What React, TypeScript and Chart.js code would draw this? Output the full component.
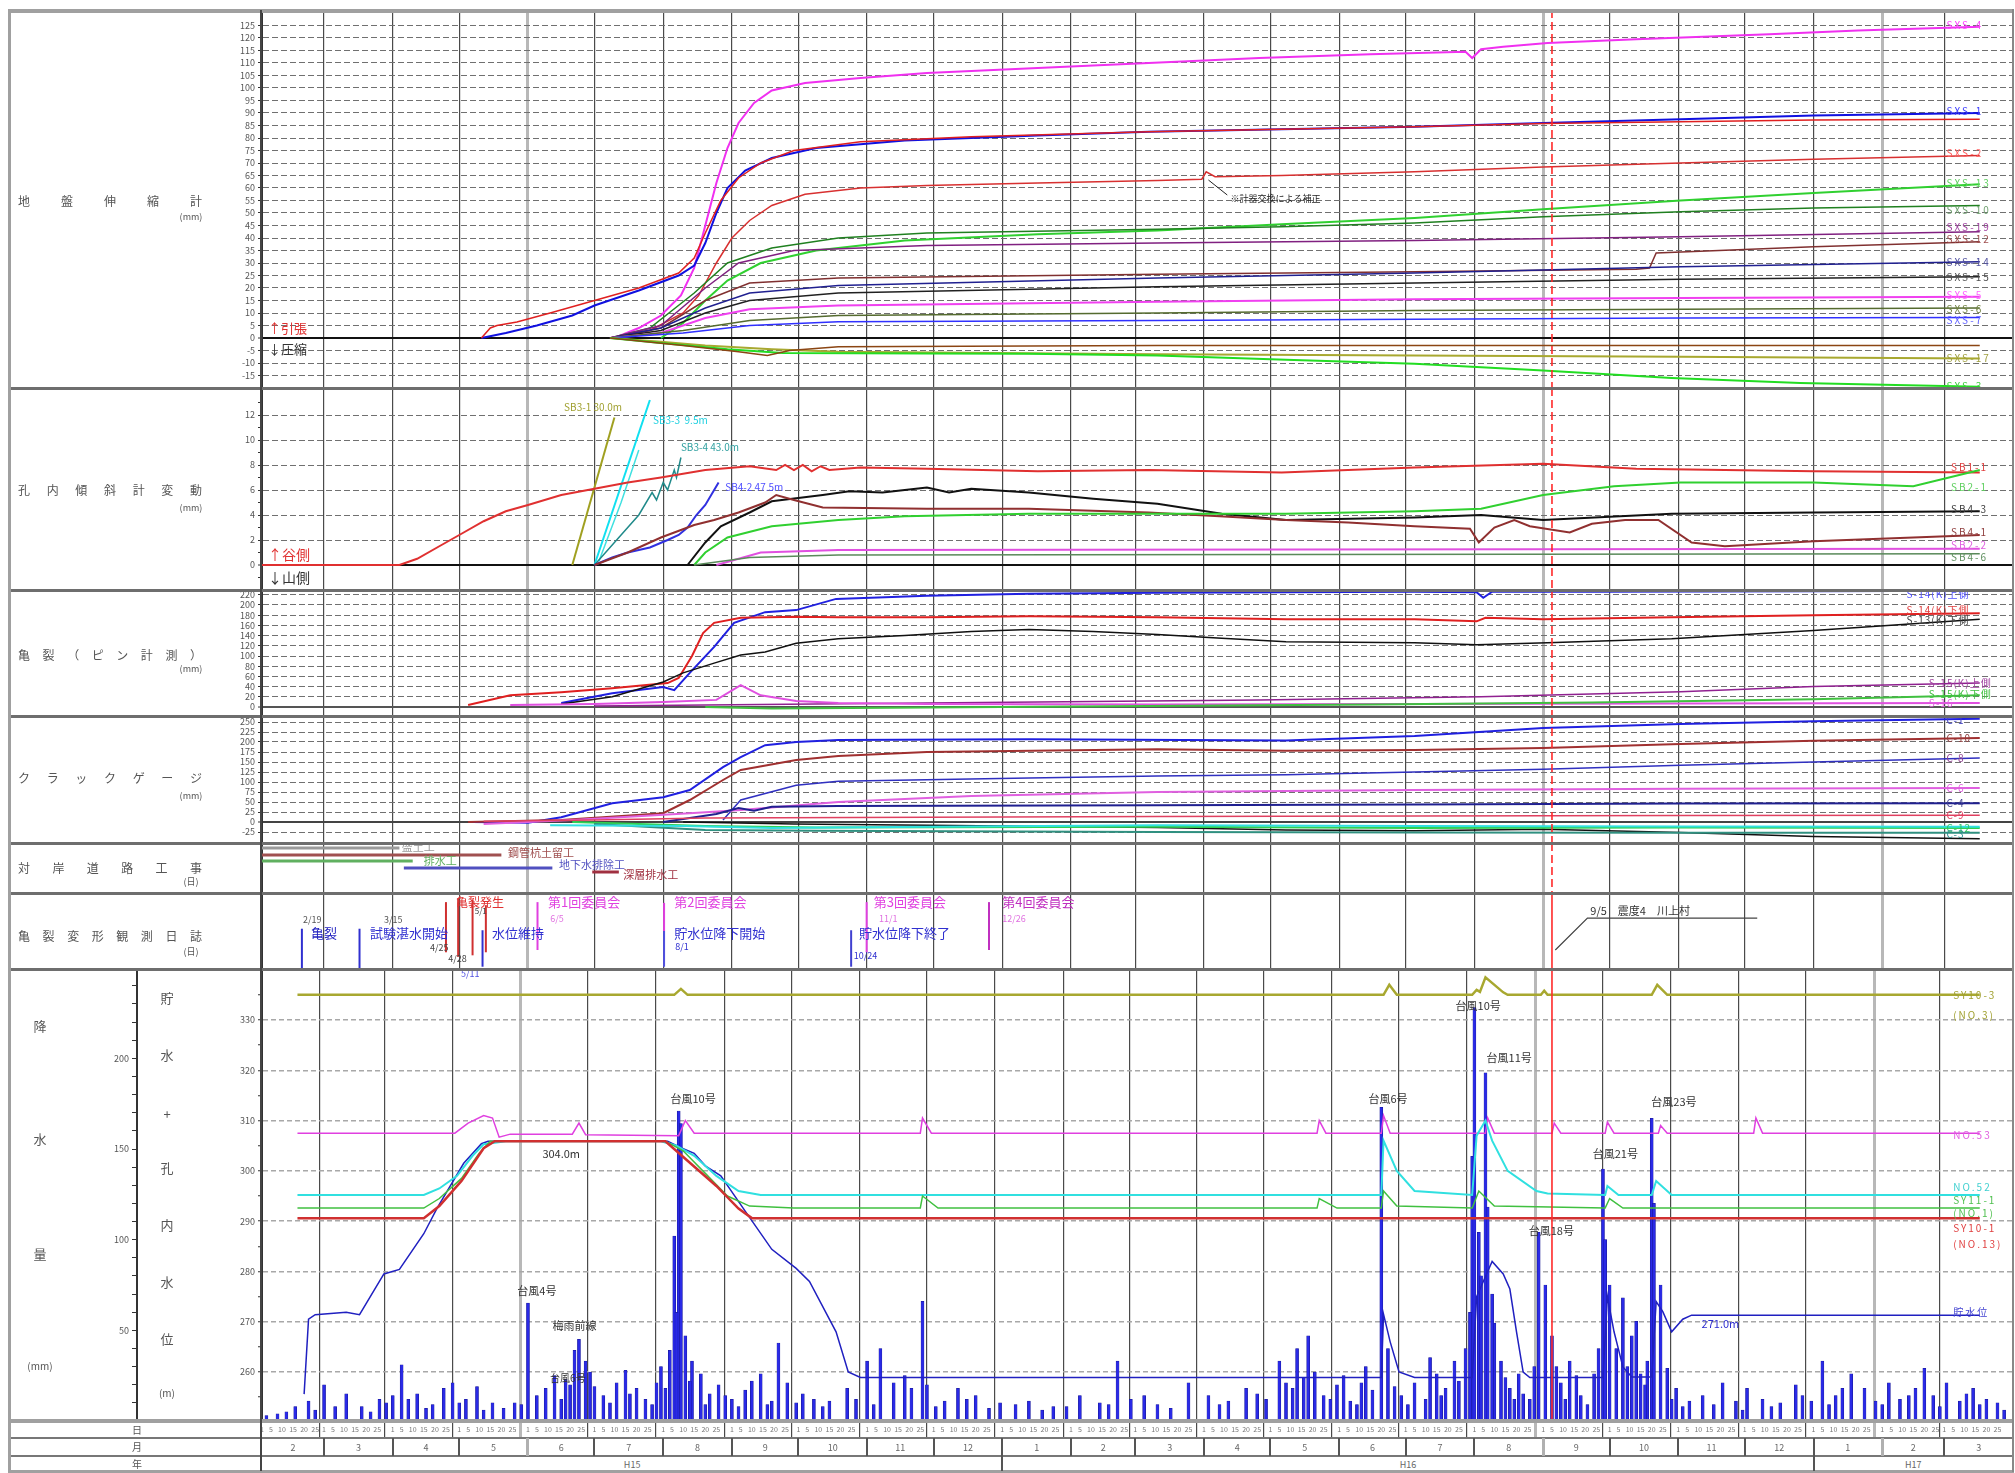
import React, { useEffect, useRef } from 'react';
import { Chart, registerables } from 'chart.js';

Chart.register(...registerables);

type Pt = [number, number];
type Note = [number, number, string, string, number?, string?, string?];

const FONT = '"Noto Sans CJK JP", "Noto Sans", sans-serif';
const PAGE_W = 2015;
const PAGE_H = 1473;
const PLOT_L = 262;
const PLOT_R = 2013;
const TOTAL_DAYS = 790;
const QUAKE_DAY = 582;

// ---------- time axis ----------
const MONTH_LABELS = ['2', '3', '4', '5', '6', '7', '8', '9', '10', '11', '12', '1', '2', '3', '4', '5', '6', '7', '8', '9', '10', '11', '12', '1', '2', '3'];
const YEAR_LABELS = ['H15', 'H16', 'H17'];
const YEAR_START = [0, 334, 700, 790];
const LIGHT_MONTHS = [4, 19, 24];
const DAY_MARKS = [1, 5, 10, 15, 20, 25];

const MONTH_START: number[] = MONTH_LABELS.map((_, i) =>
  Math.round((Date.UTC(2003, 1 + i, 1) - Date.UTC(2003, 1, 1)) / 86400000)
).concat([TOTAL_DAYS]);
const DAY_TICKS: number[] = [];
const DAY_LABEL = new Map<number, string>();
MONTH_START.slice(0, -1).forEach((m) =>
  DAY_MARKS.forEach((d) => {
    DAY_TICKS.push(m + d - 1);
    DAY_LABEL.set(m + d - 1, String(d));
  })
);

// ---------- 地盤伸縮計 (mm) ----------
const SXS4: Pt[] = [[159,0],[170,4],[180,9],[189,17],[195,28],[200,45],[205,62],[210,76],[215,86],[222,94],[230,99],[245,102],[270,104],[300,106],[350,108],[400,110],[450,112],[500,113.5],[543,114.5],[546,112],[550,115.5],[560,116.5],[580,118],[620,119.5],[680,121.5],[720,123],[775,124.5]];
const SXS1: Pt[] = [[99,0],[110,2],[124,5],[140,9],[150,13],[170,19],[188,25],[195,29],[200,38],[205,50],[210,60],[218,67],[230,72],[250,76],[290,79],[350,81],[400,82.5],[460,83.5],[520,84.5],[578,86],[640,87.5],[700,89],[775,90]];
const SXS11: Pt[] = [[99,0],[103,4],[106,5],[115,6.4],[130,10],[150,15],[170,20],[188,26],[195,32],[200,42],[207,55],[215,64],[225,70],[240,75],[270,78.5],[320,80.5],[400,82.5],[460,83.5],[520,84.5],[578,85.8],[640,86.5],[700,87.2],[775,87.5]];
const SXS2: Pt[] = [[157,0],[175,3],[190,10],[197,17],[205,30],[212,40],[220,47],[230,53],[245,57.5],[270,60],[300,61],[350,62],[404,63],[424,63.5],[426,66.5],[430,64.5],[460,65],[520,66.5],[578,68.4],[640,70],[700,71.5],[775,73]];
const SXS13: Pt[] = [[180,0],[190,6],[200,15],[210,23],[225,30],[250,35],[290,39],[350,41.5],[404,43],[460,45.5],[520,48],[578,51.5],[640,55],[700,58],[775,61.5]];
const SXS10: Pt[] = [[157,0],[175,4],[195,18],[210,30],[230,36],[260,40],[300,42],[404,43.5],[460,44.5],[520,46],[578,48.5],[640,50.5],[700,52],[775,53]];
const SXS19: Pt[] = [[157,0],[180,5],[200,20],[215,30],[240,35],[300,37],[404,38],[520,39],[640,40.5],[775,42.5]];
const SXS12: Pt[] = [[157,0],[180,4],[200,15],[220,22],[260,24],[404,25.5],[520,26.5],[620,27.5],[626,28],[629,34],[700,36.5],[775,38.5]];
const SXS14: Pt[] = [[157,0],[180,4],[200,12],[220,18],[260,21],[404,24],[520,26],[640,28.5],[775,30.5]];
const SXS15: Pt[] = [[157,0],[180,3],[200,10],[220,15],[260,18],[404,20.5],[520,22],[640,23.5],[775,24.5]];
const SXS5: Pt[] = [[157,0],[180,2],[200,8],[220,11.5],[260,13],[404,14.5],[520,15.5],[640,16],[775,16.5]];
const SXS6: Pt[] = [[157,0],[190,3],[220,7],[260,9],[404,10],[520,11],[640,11.5],[775,12]];
const SXS7: Pt[] = [[157,0],[190,2],[220,5],[260,6.5],[404,7],[520,7.5],[640,8],[775,8.2]];
const SXS17: Pt[] = [[157,0],[180,-1.5],[200,-3],[230,-4.5],[260,-5.5],[404,-6.5],[520,-7],[640,-7.5],[775,-8.2]];
const SXS3: Pt[] = [[157,0],[180,-2],[210,-4.5],[235,-6],[300,-6.2],[346,-6.3],[404,-7],[462,-8.7],[520,-10.3],[578,-13],[636,-16],[694,-18],[775,-19.5]];
const SXS8: Pt[] = [[157,0],[190,-3],[215,-5.5],[228,-7],[238,-5],[260,-3.5],[404,-3],[520,-3],[775,-3]];
const SXS_NOTE_LEADER: Pt[] = [[427,63.2],[435.5,57.2]];

// ---------- 孔内傾斜計変動 (mm) ----------
const SB11: Pt[] = [[0,0],[62,0],[70,0.5],[80,1.5],[90,2.5],[100,3.5],[110,4.3],[120,4.8],[135,5.6],[150,6.1],[165,6.6],[180,7],[200,7.6],[220,7.9],[232,7.6],[236,8],[240,7.6],[244,8],[248,7.5],[252,7.9],[256,7.6],[270,7.8],[300,7.7],[350,7.5],[400,7.6],[460,7.4],[520,7.8],[578,8.1],[620,7.7],[700,7.5],[775,7.4]];
const SB31: Pt[] = [[140,0],[159,11.8]];
const SB33: Pt[] = [[150,0],[175,13.2]];
const SB33B: Pt[] = [[152,0.3],[162,5],[170,9.2]];
const SB34: Pt[] = [[150,0],[160,2],[170,4],[176,5.8],[178,5.2],[181,6.6],[183,6],[186,7.6],[187,7],[189,8.6]];
const SB42: Pt[] = [[150,0],[158,0.6],[165,1],[175,1.4],[183,2],[188,2.4],[192,3],[196,4],[200,4.8],[206,6.6]];
const SB41: Pt[] = [[150,0],[165,1],[180,2.2],[195,3.2],[204,3.6],[215,4.2],[227,5],[232,5.6],[240,5.2],[253,4.6],[300,4.5],[346,4.5],[400,4.2],[432,3.9],[462,3.6],[490,3.4],[520,3.1],[545,2.9],[549,1.8],[556,3],[565,3.6],[572,3.1],[590,2.6],[600,3.3],[615,3.6],[630,3.6],[645,1.8],[660,1.5],[700,1.9],[775,2.4]];
const SB43: Pt[] = [[192,0],[200,1.8],[207,3.1],[220,4.2],[230,5.1],[253,5.6],[265,5.9],[280,5.8],[290,6],[300,6.2],[310,5.8],[320,6.1],[346,5.8],[375,5.3],[404,4.9],[433,4.1],[462,3.6],[520,3.8],[550,4],[578,3.6],[636,4.1],[700,4.2],[775,4.3]];
const SB21: Pt[] = [[195,0],[200,1],[210,2.2],[230,3.1],[260,3.6],[290,3.9],[346,4.1],[462,4.1],[520,4.3],[550,4.5],[578,5.6],[610,6.3],[640,6.6],[700,6.6],[745,6.3],[775,7.6]];
const SB46: Pt[] = [[195,0],[220,0.6],[260,0.8],[775,0.9]];
const SB22: Pt[] = [[205,0],[225,1],[260,1.2],[775,1.3]];

// ---------- 亀裂(ピン計測) (mm) ----------
const S14L: Pt[] = [[93,4],[112,23],[135,29],[158,37],[183,47],[188,57],[194,100],[199,145],[204,165],[216,175],[241,177],[260,176],[300,176],[346,178],[404,176],[462,172],[520,172],[548,168],[552,175],[578,172],[636,176],[700,180],[775,184]];
const S14U: Pt[] = [[135,8],[158,27],[181,39],[186,33],[193,67],[204,118],[213,165],[227,186],[241,190],[259,212],[300,218],[346,222],[404,224],[462,225],[520,226],[548,225],[551,214],[555,226],[600,226],[700,227],[775,228]];
const S13L: Pt[] = [[135,6],[158,20],[181,49],[190,67],[204,86],[216,102],[227,108],[241,125],[260,134],[290,140],[320,148],[346,152],[375,148],[404,142],[433,135],[462,128],[520,126],[548,122],[580,126],[636,134],[700,150],[740,162],[775,172]];
const S16: Pt[] = [[112,4],[150,6],[181,10],[205,14],[216,43],[225,23],[241,12],[260,8],[300,6],[404,5],[520,6],[640,7],[775,8]];
const S15U: Pt[] = [[150,2],[200,4],[250,6],[350,10],[450,14],[550,20],[640,30],[700,40],[775,47]];
const S15L: Pt[] = [[200,0],[230,-3],[300,-1],[400,2],[500,5],[600,9],[700,15],[775,23]];

// ---------- クラックゲージ (mm) ----------
const C1: Pt[] = [[95,0],[120,-2],[135,12],[158,47],[181,62],[193,80],[208,137],[216,162],[227,192],[241,200],[260,205],[346,207],[462,204],[520,215],[578,235],[640,245],[700,252],[775,258]];
const C10: Pt[] = [[93,0],[135,5],[181,22],[193,55],[208,105],[216,130],[241,155],[260,165],[300,175],[404,182],[462,178],[520,180],[578,185],[640,195],[700,203],[775,210]];
const C8: Pt[] = [[208,5],[216,55],[241,92],[260,102],[346,110],[404,115],[462,118],[520,125],[578,132],[640,142],[700,150],[775,160]];
const C6: Pt[] = [[100,-5],[140,5],[193,22],[216,30],[260,50],[320,65],[404,75],[520,80],[640,83],[775,85]];
const C4: Pt[] = [[181,0],[205,20],[215,35],[222,28],[230,38],[260,40],[404,42],[520,44],[640,46],[775,47]];
const C9: Pt[] = [[100,2],[150,5],[200,10],[300,12],[404,14],[520,15],[640,16],[775,17]];
const C12: Pt[] = [[140,0],[200,-10],[250,-14],[404,-12],[520,-15],[640,-14],[775,-15]];
const C3: Pt[] = [[150,-5],[200,-20],[250,-22],[404,-25],[520,-26],[640,-27],[775,-27]];
const C5: Pt[] = [[190,0],[240,-5],[300,-8],[404,-14],[462,-20],[520,-22],[578,-18],[640,-26],[700,-36],[775,-42]];
const C2: Pt[] = [[130,-8],[190,-10],[230,-15],[300,-12],[404,-8],[520,-10],[640,-11],[775,-12]];

// ---------- 対岸道路工事 ----------
const WORK_NAMES = ['盛土工', '鋼管杭土留工', '排水工', '地下水排除工', '深層排水工'];
const WORK_START = [0, 0, 0, 64, 149];
const WORK_END = [62, 108, 68, 131, 161];
const WORK_ROW = [9, 7.6, 6.4, 5, 4.2];
const WORK_LABEL_DAY = [63, 111, 73, 134, 163];
const WORK_LABEL_ROW = [9.3, 8, 6.4, 5.6, 3.6];
const WORK_COLORS = ['#9a9a9a', '#a05050', '#60b060', '#5050c0', '#a03040'];

// ---------- 亀裂変形観測日誌 ----------
const EVENT_DAY = [18, 44, 83, 88.5, 95, 101, 99.5, 124.3, 181.4, 181.4, 265.8, 272.8, 328];
const EVENT_FROM = [0, 0, 2.2, 1.6, 1.8, 2.2, 0.3, 2.5, 5, 0.3, 0.3, 2.2, 2.5];
const EVENT_TO = [5.3, 5.3, 8.8, 9.3, 9.1, 8.4, 5.1, 8.8, 8.7, 5, 5.1, 8.8, 8.8];
const EVENT_COLORS = ['#3030d0', '#3030d0', '#d03030', '#d03030', '#d03030', '#d03030', '#3030d0', '#e040e0', '#e040e0', '#5050e0', '#4040d0', '#e040e0', '#c030c0'];
const QUAKE_LEADER: Pt[] = [[583.5,2.5],[598,6.7],[674.6,6.7]];
const EVENT_NOTES: Note[] = [
  [18.5, 6.45, '2/19', '#555', 9],
  [22.1, 4.7, '亀裂', '#2020c0', 13],
  [55, 6.45, '3/15', '#555', 9],
  [48.7, 4.7, '試験湛水開始', '#3030d0', 13],
  [87.5, 8.8, '亀裂発生', '#e03030', 12],
  [75.8, 2.8, '4/25', '#444', 9],
  [84, 1.4, '4/28', '#444', 9],
  [96, 7.6, '5/1', '#444', 8],
  [103.8, 4.7, '水位維持', '#3030d0', 13],
  [129, 8.8, '第1回委員会', '#e040e0', 13],
  [130, 6.7, '6/5', '#e070e0', 9],
  [186, 8.8, '第2回委員会', '#e040e0', 13],
  [186, 4.7, '貯水位降下開始', '#3030d0', 13],
  [186.4, 2.9, '8/1', '#3030d0', 9],
  [276, 8.8, '第3回委員会', '#e040e0', 13],
  [278.4, 6.7, '11/1', '#e070e0', 9],
  [269.4, 4.7, '貯水位降下終了', '#3030d0', 13],
  [267, 1.8, '10/24', '#3030d0', 9],
  [334, 8.8, '第4回委員会', '#c030c0', 13],
  [334, 6.7, '12/26', '#e070e0', 9],
  [599.3, 7.6, '9/5　震度4　川上村', '#333', 11],
];

// ---------- 貯水位 + 孔内水位 (m) ----------
const SY103: Pt[] = [[16,335],[186,335],[189,336.2],[192,335],[506,335],[508.6,337],[512,335],[546,335],[548,336],[549.5,335.6],[552,338.5],[560,335.5],[562,335],[577,335],[578.5,335.8],[580,335],[627,335],[629.5,337],[634,335],[775,335]];
const NO53: Pt[] = [[16,307.5],[87,307.5],[93,309.5],[100,311],[104,310.5],[107,306.7],[112,307.3],[140,307.3],[143,309.5],[146,307.2],[188,307],[191,310],[195,307.5],[297,307.5],[298,310.5],[302,307.5],[476,307.5],[477,310],[480,307.5],[505,307.5],[506,311],[509,307.5],[552,307.5],[553,310.5],[556,307.5],[582,307.5],[583,309.5],[586,307.5],[606,307.5],[607,309.7],[610,307.5],[630,307.5],[631,309],[634,307.5],[673,307.5],[674,310.5],[677,307.5],[775,307.5]];
const NO52: Pt[] = [[16,295.2],[73,295.2],[80,296.5],[88,299],[95,303],[100,305.3],[110,305.9],[180,305.9],[187,305],[195,303],[205,299],[215,296],[225,295.2],[505,295.2],[506,306],[512,300],[520,296],[546,295.2],[548,307],[552,310],[555,306],[562,300],[575,296],[580,295.5],[606,295.2],[607,297],[612,295.2],[627,295.2],[629,298],[636,295.2],[775,295.2]];
const SY111: Pt[] = [[16,292.6],[73,292.6],[80,294.5],[90,298.5],[98,303.5],[103,305.9],[182,305.9],[190,304],[200,299.5],[210,295],[220,293],[240,292.6],[297,292.6],[298,295],[305,292.6],[476,292.6],[477,294.5],[485,292.6],[505,292.6],[506,296],[512,293],[546,292.6],[549,296],[556,293],[606,292.6],[608,294.5],[614,292.6],[775,292.6]];
const SY101: Pt[] = [[16,290.6],[73,290.6],[80,293],[90,298],[100,304.5],[105,305.9],[182,305.9],[192,302],[205,297],[215,292.5],[221,290.6],[775,290.6]];
const RESERVOIR: Pt[] = [[19,255.6],[21,270.5],[24,271.4],[38,271.9],[44,271.4],[55,279.5],[62,280.4],[73,287.5],[79,292.6],[91,301.5],[99,305.4],[102,305.9],[183,305.9],[189,304.6],[195,303.5],[200,301],[207,299],[218,292],[230,284.4],[241,280.6],[247,278],[259,268],[264.5,260],[270,258.9],[505,258.9],[506,271.5],[509,266],[513,260],[520,258.9],[546,258.9],[548,275],[552,279],[555,282],[560,279.5],[563,276.5],[566,268],[569,260],[572,258.9],[605,258.9],[607,275],[610,268],[614,261],[618,259],[627,259],[629,274],[632,272],[636,268],[641,270.5],[645,271.3],[775,271.3]];

// ---------- 降水量 (mm/day) ----------
const RAIN_DAY = [7,11,15,21,28,33,38,45,53,56,63,66,70,77,82,86,92,97,104,109,114,120,124,128,132,137,141,143,146,150,154,160,164,169,173,178,182,184,186,188,189,191,194,198,202,206,212,218,225,230,233,237,244,249,256,264,273,279,285,293,298,300,308,314,322,333,346,357,369,378,386,392,404,418,427,436,444,453,459,462,467,472,475,479,485,491,496,501,505,508,514,520,525,530,534,538,543,546,547,549,552,553,556,559,563,567,572,576,579,582,586,590,595,601,605,608,611,614,618,622,625,627,631,634,638,644,650,659,665,670,677,685,692,699,704,710,717,723,728,734,739,746,750,754,760,766,772,778,783];
const RAIN_MM = [4,5,8,11,20,8,15,8,12,10,31,12,15,9,18,21,12,19,10,7,10,65,14,18,25,23,39,45,33,19,14,21,28,18,12,21,18,39,102,171,164,47,33,26,15,20,12,17,26,11,43,21,15,12,11,18,33,40,21,18,66,20,11,18,14,10,11,8,14,10,33,12,9,21,14,11,18,12,33,21,40,47,27,14,20,11,21,17,173,40,14,21,12,26,18,33,40,146,228,104,192,118,54,33,18,26,12,104,75,47,21,33,14,26,139,75,40,68,47,26,33,167,75,29,18,11,14,21,11,18,12,10,20,11,33,14,26,18,11,21,12,18,29,14,21,11,18,12,10];
const RAIN_DAY_2 = [2,24,49,59,74,89,100,117,135,139,148,157,166,176,180,187,193,200,209,215,221,228,241,253,268,276,290,304,318,328,340,352,363,382,398,410,432,449,465,470,482,488,494,498,511,517,527,532,540,545,550,555,561,565,569,574,584,588,593,598,603,606,616,620,624,628,636,641,655,668,681,695,707,713,731,743,757,769,775,786];
const RAIN_MM_2 = [3,6,5,14,7,10,6,9,12,20,27,10,15,9,30,60,22,9,14,8,22,9,10,8,12,9,25,8,12,7,9,6,8,9,14,7,9,15,18,24,12,25,9,30,19,9,35,14,22,60,80,70,24,12,15,30,30,12,25,9,40,100,30,55,20,120,12,8,9,6,8,14,9,18,9,14,8,15,9,6];

// ---------- annotations ----------
const P1_NOTES: Note[] = [
  [2.7, 4, '↑引張', '#e03030', 13],
  [2.7, -4.6, '↓圧縮', '#333', 13],
  [437, 55.6, '※計器交換による補正', '#222', 9],
];
const P1_RIGHT: Note[] = [
  [760,125,'SXS-4','#ff40ff'],[760,90.8,'SXS-1','#4040ff'],[760,74,'SXS-2','#ff6060'],[760,62,'SXS-13','#60d060'],
  [760,51,'SXS-10','#70a070'],[760,44.5,'SXS-19','#a040a0'],[760,39.5,'SXS-12','#a05050'],[760,30.5,'SXS-14','#5050a0'],
  [760,24.5,'SXS-15','#505050'],[760,17,'SXS-5','#ff60ff'],[760,11.5,'SXS-6','#708040'],[760,7.2,'SXS-7','#6060ff'],
  [760,-8,'SXS-17','#a0a040'],[760,-19.3,'SXS-3','#40d040'],
];
const P2_NOTES: Note[] = [
  [2.7, 0.8, '↑谷側', '#e03030', 14],
  [2.7, -1, '↓山側', '#333', 14],
  [136.3, 12.6, 'SB3-1 30.0m', '#a0a030', 10],
  [176.4, 11.6, 'SB3-3  9.5m', '#20d0e0', 10],
  [189, 9.4, 'SB3-4 43.0m', '#30a0a0', 10],
  [209, 6.2, 'SB4-2 47.5m', '#5050ff', 10],
];
const P2_RIGHT: Note[] = [
  [762,7.8,'SB1-1','#e04040'],[762,6.2,'SB2-1','#60d060'],[762,4.5,'SB4-3','#404040'],
  [762,2.6,'SB4-1','#904040'],[762,1.6,'SB2-2','#e060e0'],[762,0.6,'SB4-6','#609060'],
];
const P3_RIGHT: Note[] = [
  [742,222,'S-14(K)上側','#5050ff'],[742,190,'S-14(K)下側','#e04040'],[742,170,'S-13(K)下側','#404040'],
  [752,47,'S-15(K)上側','#a040a0'],[752,26,'S-15(K)下側','#40c040'],[752,8,'S-16','#e060e0'],
];
const P4_RIGHT: Note[] = [
  [760,255,'C-1','#4040c0'],[760,210,'C-10','#904040'],[760,160,'C-8','#904090'],[760,85,'C-6','#e060e0'],
  [760,47,'C-4','#404090'],[760,17,'C-9','#e04060'],[760,-15,'C-12','#30c060'],[760,-30,'C-3','#309090'],
];
const P7_NOTES: Note[] = [
  [124, 276.1, '台風4号', '#333', 11, 'center', 'yW'],
  [141, 269.1, '梅雨前線', '#333', 11, 'center', 'yW'],
  [138, 258.8, '台風6号', '#333', 10, 'center', 'yW'],
  [194.5, 314.3, '台風10号', '#333', 11, 'center', 'yW'],
  [135, 303.3, '304.0m', '#333', 11, 'center', 'yW'],
  [508, 314.3, '台風6号', '#333', 11, 'center', 'yW'],
  [548.7, 332.8, '台風10号', '#333', 11, 'center', 'yW'],
  [562.7, 322.4, '台風11号', '#333', 11, 'center', 'yW'],
  [581.7, 288, '台風18号', '#333', 11, 'center', 'yW'],
  [610.6, 303.3, '台風21号', '#333', 11, 'center', 'yW'],
  [637, 313.7, '台風23号', '#333', 11, 'center', 'yW'],
  [658, 269.5, '271.0m', '#3030d0', 11, 'center', 'yW'],
  [94, 339.2, '5/11', '#5050e0', 9, 'center', 'yW'],
];
const P7_RIGHT: Note[] = [
  [763,335,'SY10-3','#a0a030',10,'left','yW'],[763,331,'(NO.3)','#a0a030',10,'left','yW'],
  [763,307.1,'NO.53','#e060e0',10,'left','yW'],[763,296.8,'NO.52','#40d0d0',10,'left','yW'],
  [763,294.2,'SY11-1','#50c050',10,'left','yW'],[763,291.6,'(NO.1)','#50c050',10,'left','yW'],
  [763,288.6,'SY10-1','#e04040',10,'left','yW'],[763,285.4,'(NO.13)','#e04040',10,'left','yW'],
  [763,271.9,'貯水位','#4040d0',10,'left','yW'],
];

// ---------- left column titles ----------
const PANEL_TITLES = ['地盤伸縮計', '孔内傾斜計変動', '亀裂（ピン計測）', 'クラックゲージ', '対岸道路工事', '亀裂変形観測日誌'];
const PANEL_TITLE_Y = [201, 490, 655, 778, 868, 936];
const PANEL_UNITS = ['(mm)', '(mm)', '(mm)', '(mm)', '(日)', '(日)'];
const PANEL_UNIT_Y = [216, 507, 668, 795, 881, 951];
const RAIN_TITLE = ['降', '水', '量', '(mm)'];
const RAIN_TITLE_Y = [1025, 1138, 1253, 1366];
const LEVEL_TITLE = ['貯', '水', '+', '孔', '内', '水', '位', '(m)'];
const LEVEL_TITLE_Y = [997, 1054, 1113, 1167, 1224, 1281, 1338, 1393];

// ---------- helpers ----------
const pts = (a: Pt[]) => a.map(([x, y]) => ({ x, y }));
const range = (a: number, b: number, s: number) => {
  const r: number[] = [];
  for (let v = a; v <= b + 1e-9; v += s) r.push(Math.round(v * 100) / 100);
  return r;
};
const dayPx = (d: number) => PLOT_L + (d / TOTAL_DAYS) * (PLOT_R - PLOT_L);

function line(data: Pt[], color: string, width = 1.5, axis = 'y') {
  return { type: 'line', data: pts(data), borderColor: color, borderWidth: width, pointRadius: 0, fill: false, tension: 0, yAxisID: axis, order: 1 };
}

function xColor(v: any) {
  const i = MONTH_START.indexOf(v);
  if (i < 0) return 'rgba(0,0,0,0)';
  return LIGHT_MONTHS.includes(i) ? '#b8b8b8' : '#4a4a4a';
}
function xWidth(v: any) {
  const i = MONTH_START.indexOf(v);
  return i >= 0 && LIGHT_MONTHS.includes(i) ? 3 : 1.2;
}

function xAxis(days: boolean) {
  const ticks = days ? DAY_TICKS : MONTH_START.slice(1, -1);
  return {
    type: 'linear', position: 'bottom', min: 0, max: TOTAL_DAYS, offset: false,
    afterBuildTicks: (s: any) => { s.ticks = ticks.map((value) => ({ value })); },
    afterFit: (s: any) => { s.height = days ? 17 : 0; s.paddingLeft = 0; s.paddingRight = 0; },
    grid: {
      color: (c: any) => xColor(c.tick?.value),
      lineWidth: (c: any) => xWidth(c.tick?.value),
      drawTicks: days, tickLength: 17,
      tickColor: (c: any) => xColor(c.tick?.value),
      tickWidth: (c: any) => xWidth(c.tick?.value),
    },
    border: { display: false },
    ticks: {
      display: days, autoSkip: false, maxRotation: 0, minRotation: 0, padding: -13,
      font: { size: 7, family: FONT }, color: '#777',
      callback: (v: number) => DAY_LABEL.get(v) ?? '',
    },
  };
}

function yAxis(o: any) {
  return {
    type: 'linear', position: 'left', min: o.min, max: o.max, weight: o.weight ?? 0,
    afterBuildTicks: (s: any) => { s.ticks = o.ticks.map((value: number) => ({ value })); },
    afterFit: (s: any) => { s.width = o.boxWidth; s.paddingTop = 0; s.paddingBottom = 0; },
    ticks: {
      display: o.show !== false, autoSkip: false, padding: 3, color: '#555',
      font: { size: 9, family: FONT },
      callback: (v: number) => (o.label ? o.label(v) : String(v)),
    },
    grid: {
      drawOnChartArea: o.onArea !== false, drawTicks: true, tickLength: o.tickLen ?? 4,
      tickColor: o.tickColor ?? '#333', tickWidth: 1,
      color: (c: any) => (o.color ? o.color(c.tick?.value) : '#777'),
      lineWidth: (c: any) => (o.width ? o.width(c.tick?.value) : 1),
    },
    border: { display: true, color: '#333', width: 2, dash: (c: any) => (c.tick && o.dash ? o.dash(c.tick.value) : []) },
  };
}

function baseOptions(scales: any) {
  return {
    responsive: false, animation: false, events: [],
    layout: { padding: { left: 0, right: PAGE_W - PLOT_R, top: 0, bottom: 0 }, autoPadding: false },
    plugins: { legend: { display: false }, tooltip: { enabled: false } },
    scales,
  };
}

function notesPlugin(id: string, notes: Note[], spacing = 0) {
  return {
    id,
    afterDatasetsDraw(chart: any) {
      const { ctx } = chart;
      const xs = chart.scales.x;
      notes.forEach(([d, v, t, c, s = 10, a = 'left', ax = 'y']) => {
        const ys = chart.scales[ax as string];
        ctx.save();
        ctx.font = `${s}px ${FONT}`;
        if ('letterSpacing' in ctx) (ctx as any).letterSpacing = `${spacing}px`;
        ctx.fillStyle = c;
        ctx.textAlign = a as CanvasTextAlign;
        ctx.textBaseline = 'middle';
        ctx.fillText(t, xs.getPixelForValue(d), ys.getPixelForValue(v));
        ctx.restore();
      });
    },
  };
}

function quakePlugin(dashed: boolean) {
  return {
    id: 'quake',
    afterDatasetsDraw(chart: any) {
      const { ctx, chartArea } = chart;
      const x = chart.scales.x.getPixelForValue(QUAKE_DAY);
      ctx.save();
      ctx.strokeStyle = '#ff2a2a';
      ctx.lineWidth = 1.6;
      ctx.setLineDash(dashed ? [8, 4] : []);
      ctx.beginPath();
      ctx.moveTo(x, chartArea.top);
      ctx.lineTo(x, chartArea.bottom);
      ctx.stroke();
      ctx.restore();
    },
  };
}

const dashed = (zero: string) => ({
  color: (v: number) => (v === 0 ? zero : '#707070'),
  width: (v: number) => (v === 0 ? 2 : 1),
  dash: (v: number) => (v === 0 ? [] : [6, 3]),
});

// ---------- chart builders ----------
function buildP1() {
  return {
    type: 'line',
    data: {
      datasets: [
        line(SXS8, '#8b4513'), line(SXS3, '#22dd22', 2), line(SXS17, '#a8a830', 2), line(SXS7, '#3030ff'),
        line(SXS6, '#556b2f'), line(SXS5, '#f040f0', 2), line(SXS15, '#202020'), line(SXS14, '#202090'),
        line(SXS12, '#803030'), line(SXS19, '#802080'), line(SXS10, '#208020'), line(SXS13, '#30d030', 2),
        line(SXS2, '#d83030'), line(SXS11, '#e02020'), line(SXS1, '#1010e0', 2), line(SXS4, '#f030f0', 2),
        line(SXS_NOTE_LEADER, '#222', 1),
      ],
    },
    options: baseOptions({
      x: xAxis(false),
      y: yAxis({ min: -20, max: 131.2, ticks: range(-15, 125, 5), boxWidth: PLOT_L, ...dashed('#111') }),
    }),
    plugins: [quakePlugin(true), notesPlugin('notes', P1_NOTES), notesPlugin('right', P1_RIGHT, 2)],
  };
}

function buildP2() {
  return {
    type: 'line',
    data: {
      datasets: [
        line(SB46, '#5a8a5a'), line(SB22, '#e050e0', 2), line(SB21, '#30d030', 2), line(SB41, '#903030', 2),
        line(SB43, '#111111', 2), line(SB11, '#e03030', 2), line(SB42, '#3030e0', 2), line(SB34, '#208a8a', 1.5),
        line(SB33B, '#40e0e0', 1.5), line(SB33, '#10e0f0', 2), line(SB31, '#a0a020', 2),
      ],
    },
    options: baseOptions({
      x: xAxis(false),
      y: yAxis({
        min: -2, max: 14.16, ticks: range(-1, 13, 1), boxWidth: PLOT_L,
        label: (v: number) => (v >= 0 && v % 2 === 0 ? String(v) : ''),
        color: (v: number) => (v === 0 ? '#111' : v % 2 === 0 && v > 0 ? '#707070' : 'rgba(0,0,0,0)'),
        width: (v: number) => (v === 0 ? 2 : 1),
        dash: (v: number) => (v === 0 ? [] : [6, 3]),
      }),
    }),
    plugins: [quakePlugin(true), notesPlugin('notes', P2_NOTES), notesPlugin('right', P2_RIGHT, 2)],
  };
}

function buildP3() {
  return {
    type: 'line',
    data: {
      datasets: [
        line(S15L, '#40c040', 2), line(S16, '#e050e0', 2), line(S15U, '#902090', 1.5),
        line(S13L, '#111111', 1.5), line(S14L, '#e02020', 2), line(S14U, '#2020e0', 2),
      ],
    },
    options: baseOptions({
      x: xAxis(false),
      y: yAxis({ min: -17.6, max: 229.4, ticks: range(0, 220, 20), boxWidth: PLOT_L, ...dashed('#555') }),
    }),
    plugins: [quakePlugin(true), notesPlugin('right', P3_RIGHT, 1)],
  };
}

function buildP4() {
  return {
    type: 'line',
    data: {
      datasets: [
        line(C2, '#30e0e0', 2), line(C3, '#309080', 2), line(C12, '#30d050', 2), line(C5, '#111111', 1.5),
        line(C9, '#e04060', 1.5), line(C4, '#202090', 2), line(C6, '#e060e0', 2), line(C8, '#3030c0', 1.5),
        line(C10, '#a03030', 2), line(C1, '#2020e0', 2),
      ],
    },
    options: baseOptions({
      x: xAxis(false),
      y: yAxis({ min: -52.5, max: 265, ticks: range(-25, 250, 25), boxWidth: PLOT_L, ...dashed('#444') }),
    }),
    plugins: [quakePlugin(true), notesPlugin('right', P4_RIGHT, 1)],
  };
}

function buildP5() {
  const notes: Note[] = WORK_NAMES.map((t, i) => [WORK_LABEL_DAY[i], WORK_LABEL_ROW[i], t, WORK_COLORS[i], 11] as Note);
  return {
    type: 'line',
    data: {
      datasets: WORK_NAMES.map((_, i) => line([[WORK_START[i], WORK_ROW[i]], [WORK_END[i], WORK_ROW[i]]], WORK_COLORS[i], 3)),
    },
    options: baseOptions({
      x: xAxis(false),
      y: yAxis({ min: 0, max: 10, ticks: [0, 10], boxWidth: PLOT_L, show: false, tickLen: 0, tickColor: 'rgba(0,0,0,0)', color: () => 'rgba(0,0,0,0)' }),
    }),
    plugins: [quakePlugin(true), notesPlugin('notes', notes)],
  };
}

function buildP6() {
  return {
    type: 'line',
    data: {
      datasets: [
        ...EVENT_DAY.map((d, i) => line([[d, EVENT_FROM[i]], [d, EVENT_TO[i]]], EVENT_COLORS[i], 2)),
        line(QUAKE_LEADER, '#444', 1.2),
      ],
    },
    options: baseOptions({
      x: xAxis(false),
      y: yAxis({ min: 0, max: 10, ticks: [0, 10], boxWidth: PLOT_L, show: false, tickLen: 0, tickColor: 'rgba(0,0,0,0)', color: () => 'rgba(0,0,0,0)' }),
    }),
    plugins: [quakePlugin(false), notesPlugin('notes', EVENT_NOTES)],
  };
}

function buildP7() {
  const rainDays = RAIN_DAY.concat(RAIN_DAY_2);
  const rainMm = RAIN_MM.concat(RAIN_MM_2);
  return {
    type: 'line',
    data: {
      datasets: [
        {
          type: 'bar', yAxisID: 'yR', order: 5,
          data: rainDays.map((x, i) => ({ x, y: rainMm[i] })),
          backgroundColor: '#2a2ae6', borderColor: '#14148c', borderWidth: 0.5, barThickness: 3,
        },
        line(SY101, '#d03030', 2.5, 'yW'),
        line(SY111, '#40c040', 1.5, 'yW'),
        line(NO52, '#30e0e0', 2, 'yW'),
        line(NO53, '#e040e0', 1.5, 'yW'),
        line(SY103, '#a8a830', 2.5, 'yW'),
        line(RESERVOIR, '#2020c0', 1.5, 'yW'),
      ],
    },
    options: baseOptions({
      x: xAxis(true),
      yW: yAxis({
        min: 250.26, max: 340.14, ticks: range(255, 335, 5), boxWidth: 125, weight: 0,
        label: (v: number) => (v % 10 === 0 ? String(v) : ''),
        color: (v: number) => (v % 10 === 0 ? '#a8a8a8' : 'rgba(0,0,0,0)'),
        width: () => 1.5,
        dash: () => [5, 3],
      }),
      yR: yAxis({
        min: 0, max: 249.3, ticks: range(10, 240, 10), boxWidth: 137, weight: 1, onArea: false, tickLen: 5,
        label: (v: number) => (v % 50 === 0 ? String(v) : ''),
      }),
    }),
    plugins: [quakePlugin(false), notesPlugin('notes', P7_NOTES), notesPlugin('right', P7_RIGHT, 2)],
  };
}

// ---------- components ----------
function Panel({ top, height, build }: { top: number; height: number; build: () => any }) {
  const ref = useRef<HTMLCanvasElement>(null);
  useEffect(() => {
    const chart = new Chart(ref.current as HTMLCanvasElement, build());
    return () => chart.destroy();
  }, []);
  return (
    <canvas
      ref={ref}
      width={PAGE_W}
      height={height}
      style={{ position: 'absolute', left: 0, top, width: PAGE_W, height, display: 'block' }}
    />
  );
}

function HLine({ y, x0, x1, w, c }: { y: number; x0: number; x1: number; w: number; c: string }) {
  return <div style={{ position: 'absolute', left: x0, top: y - w / 2, width: x1 - x0, height: w, background: c }} />;
}
function VLine({ x, y0, y1, w, c }: { x: number; y0: number; y1: number; w: number; c: string }) {
  return <div style={{ position: 'absolute', left: x - w / 2, top: y0, width: w, height: y1 - y0, background: c }} />;
}
function Txt({ x, y, t, size = 12, color = '#555' }: { x: number; y: number; t: string; size?: number; color?: string }) {
  return (
    <div style={{ position: 'absolute', left: x, top: y, transform: 'translate(-50%, -50%)', fontSize: size, color, whiteSpace: 'nowrap', lineHeight: 1 }}>
      {t}
    </div>
  );
}

const PANELS = [
  { top: 10, height: 378, build: buildP1 },
  { top: 388, height: 202, build: buildP2 },
  { top: 590, height: 126, build: buildP3 },
  { top: 716, height: 127, build: buildP4 },
  { top: 843, height: 50, build: buildP5 },
  { top: 893, height: 76, build: buildP6 },
  { top: 969, height: 469, build: buildP7 },
];

export default function App() {
  const titles: any[] = [];
  PANEL_TITLES.forEach((title, p) => {
    const chars = Array.from(title);
    const step = (196 - 24) / (chars.length - 1);
    chars.forEach((ch, i) => titles.push(<Txt key={`t${p}-${i}`} x={24 + i * step} y={PANEL_TITLE_Y[p]} t={ch} size={12} />));
    titles.push(<Txt key={`u${p}`} x={191} y={PANEL_UNIT_Y[p]} t={PANEL_UNITS[p]} size={9} />);
  });
  RAIN_TITLE.forEach((ch, i) => titles.push(<Txt key={`r${i}`} x={40} y={RAIN_TITLE_Y[i]} t={ch} size={i === 3 ? 10 : 13} />));
  LEVEL_TITLE.forEach((ch, i) => titles.push(<Txt key={`l${i}`} x={167} y={LEVEL_TITLE_Y[i]} t={ch} size={i === 7 ? 10 : 13} />));

  const monthCells = MONTH_LABELS.map((m, i) => (
    <Txt key={`m${i}`} x={(dayPx(MONTH_START[i]) + dayPx(MONTH_START[i + 1])) / 2} y={1447} t={m} size={9} color="#666" />
  ));
  const monthSeps = MONTH_START.slice(1, -1).map((d, i) => (
    <VLine key={`ms${i}`} x={dayPx(d)} y0={1438} y1={1456} w={LIGHT_MONTHS.includes(i + 1) ? 3 : 2} c={LIGHT_MONTHS.includes(i + 1) ? '#b0b0b0' : '#555'} />
  ));
  const yearCells = YEAR_LABELS.map((y, i) => (
    <Txt key={`y${i}`} x={(dayPx(YEAR_START[i]) + dayPx(YEAR_START[i + 1])) / 2} y={1464} t={y} size={9} color="#666" />
  ));
  const yearSeps = YEAR_START.slice(1, -1).map((d, i) => <VLine key={`ys${i}`} x={dayPx(d)} y0={1456} y1={1471} w={2} c="#555" />);

  const seps = [388, 590, 716, 843, 893, 969].map((y, i) => <HLine key={`h${i}`} y={y} x0={8} x1={2014} w={3} c="#6e6e6e" />);

  return (
    <div style={{ position: 'absolute', left: 0, top: 0, width: PAGE_W, height: PAGE_H, background: '#fff', fontFamily: FONT, overflow: 'hidden' }}>
      {PANELS.map((p, i) => (
        <Panel key={i} top={p.top} height={p.height} build={p.build} />
      ))}
      {seps}
      <HLine y={10.5} x0={8} x1={2014} w={4} c="#a0a0a0" />
      <HLine y={1421} x0={8} x1={2014} w={4} c="#a0a0a0" />
      <HLine y={1438} x0={8} x1={2014} w={2} c="#777" />
      <HLine y={1456} x0={8} x1={2014} w={2} c="#777" />
      <HLine y={1471} x0={8} x1={2014} w={3} c="#a0a0a0" />
      <VLine x={9} y0={9} y1={1472} w={3} c="#a0a0a0" />
      <VLine x={2013} y0={9} y1={1472} w={2} c="#888" />
      <VLine x={261} y0={10} y1={1471} w={2} c="#444" />
      {monthSeps}
      {yearSeps}
      {monthCells}
      {yearCells}
      {titles}
      <Txt x={137} y={1430} t="日" size={10} />
      <Txt x={137} y={1447} t="月" size={10} />
      <Txt x={137} y={1464} t="年" size={10} />
    </div>
  );
}
